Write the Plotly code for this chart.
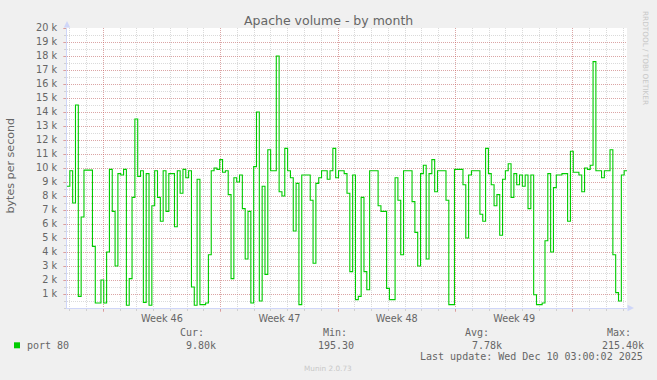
import plotly.graph_objects as go
import pandas as pd

# ---------------- data ----------------
# port 80 traffic, bytes per second (in thousands), 4-hour steps
port80_k = [
    8.7, 9.8, 7.5, 14.5, 0.83, 6.5, 9.85, 9.85, 9.85, 4.4,
    0.36, 0.36, 2.0, 0.36, 4.0, 9.9, 6.9, 3.0, 9.6, 9.5,
    9.9, 0.2, 2.1, 7.9, 13.5, 9.4, 9.8, 0.4, 9.6, 0.2,
    7.3, 9.8, 7.9, 6.2, 9.8, 6.9, 9.6, 9.6, 5.8, 9.8,
    8.2, 9.9, 9.3, 9.8, 1.5, 0.2, 9.2, 0.24, 0.24, 0.36,
    3.8, 9.8, 10.0, 9.9, 10.6, 9.7, 9.8, 8.1, 2.1, 9.3,
    9.0, 9.5, 7.1, 3.5, 6.9, 0.36, 10.1, 14.0, 0.5, 8.7,
    2.4, 11.3, 9.8, 9.8, 18.0, 8.3, 8.0, 11.4, 9.8, 9.3,
    5.5, 8.9, 0.24, 9.5, 9.5, 9.5, 7.7, 3.2, 8.9, 9.3,
    9.8, 9.8, 9.2, 9.8, 11.4, 9.3, 9.8, 9.8, 9.6, 8.2,
    2.6, 9.5, 0.6, 0.83, 7.9, 2.6, 1.3, 9.8, 9.8, 9.8,
    7.3, 6.9, 6.9, 1.4, 0.6, 0.6, 9.3, 7.7, 3.8, 9.8,
    9.8, 9.8, 7.6, 5.4, 3.0, 9.6, 10.2, 3.5, 9.6, 10.6,
    8.3, 9.8, 9.8, 9.8, 7.7, 0.24, 0.24, 9.9, 9.9, 9.9,
    8.8, 5.0, 9.5, 9.8, 9.8, 9.8, 6.7, 6.2, 11.4, 9.6,
    8.8, 7.3, 8.1, 5.2, 9.2, 9.8, 10.3, 7.9, 9.6, 8.8,
    9.5, 8.7, 9.5, 7.1, 9.5, 0.95, 0.24, 0.24, 0.36, 4.8,
    9.6, 4.0, 8.6, 9.5, 9.5, 9.6, 9.6, 6.2, 11.2, 9.7,
    9.7, 9.5, 8.3, 10.0, 9.9, 10.2, 17.6, 9.8, 9.8, 9.3,
    9.8, 9.8, 11.3, 3.8, 1.1, 0.5, 9.5, 9.8,
]
range_start = "2025-11-06 20:07"
range_end = "2025-12-10 05:28"

week_starts = ["2025-11-09", "2025-11-16", "2025-11-23", "2025-11-30", "2025-12-07"]
week_label_times = ["2025-11-12 12:00", "2025-11-19 12:00", "2025-11-26 12:00", "2025-12-03 12:00"]
week_labels = ["Week 46", "Week 47", "Week 48", "Week 49"]

y_tick_values = [k * 1000 for k in range(1, 21)]
y_tick_labels = [f"{k} k" for k in range(1, 21)]

series_name = "port 80"
stat_titles = ["Cur:", "Min:", "Avg:", "Max:"]
stat_values = ["9.80k", "195.30", "7.78k", "215.40k"]
last_update = "Last update: Wed Dec 10 03:00:02 2025"
title_text = "Apache volume - by month"
y_title = "bytes per second"
watermark = "Munin 2.0.73"
signature = "RRDTOOL / TOBI OETIKER"

# ---------------- layout geometry ----------------
W, H = 657, 380
L, R, T, B = 67, 627, 28, 308
PW, PH = R - L, B - T


def px(x):
    return (x - L) / PW


def py(y):
    return (B - y) / PH


FONT = "DejaVu Sans"
MONO = "DejaVu Sans Mono"
FONT_COL = "#666666"
AXIS_COL = "#CFD6F8"
MAJOR = "rgba(222,79,79,0.38)"
MINOR = "rgba(143,143,143,0.33)"
DASH = "1px,1px"

edges = pd.date_range(range_start, range_end, periods=len(port80_k) + 1)
yvals = [v * 1000 for v in port80_k]
yvals_step = yvals + [yvals[-1]]

fig = go.Figure()
fig.add_trace(go.Scatter(
    x=edges, y=yvals_step, mode="lines",
    line=dict(color="#00CC00", width=1.1, shape="hv"),
    hoverinfo="skip", showlegend=False,
))
# carrier for the week label axis
fig.add_trace(go.Scatter(
    x=pd.to_datetime(week_label_times), y=[0] * len(week_label_times),
    xaxis="x2", mode="markers", marker=dict(opacity=0, size=1),
    hoverinfo="skip", showlegend=False,
))

fig.update_layout(
    width=W, height=H,
    margin=dict(l=L, r=W - R, t=T, b=H - B, pad=0),
    paper_bgcolor="#F0F0F0", plot_bgcolor="#FFFFFF",
    xaxis=dict(
        type="date", range=[range_start, range_end],
        tickvals=pd.to_datetime(week_starts), ticktext=[""] * len(week_starts),
        showgrid=True, gridcolor=MAJOR, griddash=DASH, gridwidth=1,
        ticks="outside", ticklen=3, tickcolor=MAJOR,
        showline=True, linecolor=AXIS_COL, linewidth=1,
        zeroline=False, fixedrange=True,
        minor=dict(dtick=86400000, tick0="2025-11-09", showgrid=True,
                   gridcolor=MINOR, griddash=DASH, gridwidth=1,
                   ticks="outside", ticklen=2, tickcolor=MINOR),
    ),
    xaxis2=dict(
        type="date", range=[range_start, range_end], overlaying="x",
        anchor="y", side="bottom",
        tickvals=pd.to_datetime(week_label_times), ticktext=week_labels,
        showgrid=False, ticks="", showline=False, zeroline=False,
        tickfont=dict(family=FONT, size=9.7, color=FONT_COL),
        ticklabelstandoff=3,
    ),
    yaxis=dict(
        range=[0, 20000], tickvals=y_tick_values, ticktext=y_tick_labels,
        showgrid=True, gridcolor=MAJOR, griddash=DASH, gridwidth=1,
        ticks="outside", ticklen=3, tickcolor=MAJOR,
        showline=True, linecolor=AXIS_COL, linewidth=1, zeroline=False,
        tickfont=dict(family=FONT, size=9.7, color=FONT_COL),
        ticklabelstandoff=4,
        minor=dict(dtick=500, showgrid=True, gridcolor=MINOR,
                   griddash=DASH, gridwidth=1,
                   ticks="outside", ticklen=2, tickcolor=MINOR),
    ),
)

ann = []


def text(s, x, y, size, color=FONT_COL, family=FONT, xanchor="left", angle=0):
    ann.append(dict(text=s, x=px(x), y=py(y), xref="paper", yref="paper",
                    xanchor=xanchor, yanchor="middle", showarrow=False,
                    textangle=angle, borderpad=0, borderwidth=0,
                    font=dict(family=family, size=size, color=color)))


text(title_text, 328.3, 20, 12.5, xanchor="center")
text(y_title, 9.5, 166, 11.1, xanchor="center", angle=-90)
text(signature, 645.5, 57.5, 7.3, color="#C8C8C8", xanchor="center", angle=90)
text(watermark, 328, 368, 7.3, color="#C8C8C8", xanchor="center")

text(series_name, 27, 345, 10, family=MONO)
title_x = [180, 323, 465, 607]
value_x = [186, 318, 472, 602]
for t, v, tx, vx in zip(stat_titles, stat_values, title_x, value_x):
    text(t, tx, 332.7, 10, family=MONO)
    text(v, vx, 345, 10, family=MONO)
text(last_update, 643, 356.7, 10, family=MONO, xanchor="right")

shapes = [
    # legend colour box
    dict(type="rect", xref="paper", yref="paper",
         x0=px(14), x1=px(20), y0=py(348.3), y1=py(342.3),
         fillcolor="#00CC00", line=dict(width=0)),
    # axis arrows
    dict(type="path", xref="paper", yref="paper",
         path=f"M {px(63.8)},{py(27.5)} L {px(67)},{py(21)} L {px(70.2)},{py(27.5)} Z",
         fillcolor=AXIS_COL, line=dict(width=0)),
    dict(type="path", xref="paper", yref="paper",
         path=f"M {px(627.5)},{py(304.8)} L {px(634)},{py(308)} L {px(627.5)},{py(311.2)} Z",
         fillcolor=AXIS_COL, line=dict(width=0)),
]

fig.update_layout(annotations=ann, shapes=shapes)
fig.write_html("out.html")
